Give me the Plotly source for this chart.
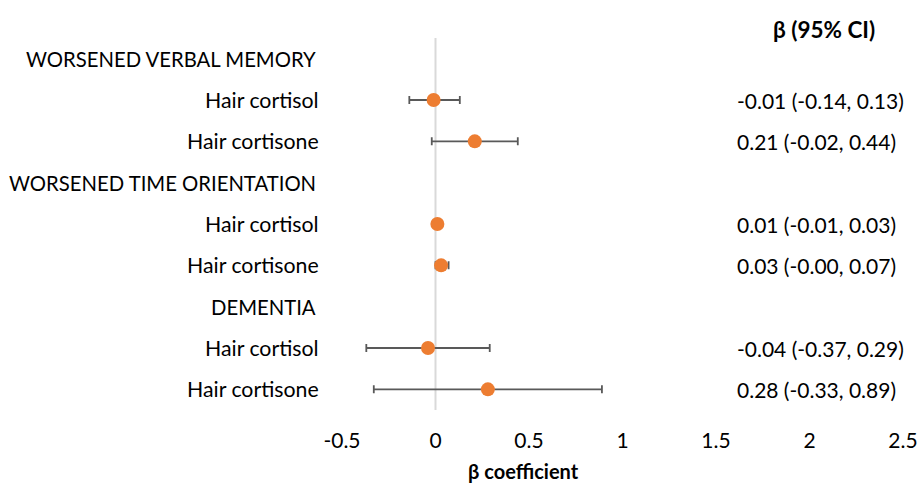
import plotly.graph_objects as go

row_labels = ["WORSENED VERBAL MEMORY", "Hair cortisol", "Hair cortisone",
              "WORSENED TIME ORIENTATION", "Hair cortisol", "Hair cortisone",
              "DEMENTIA", "Hair cortisol", "Hair cortisone"]
header_rows = [0, 3, 6]
data_rows = [1, 2, 4, 5, 7, 8]
beta = [-0.01, 0.21, 0.01, 0.03, -0.04, 0.28]
lower = [-0.14, -0.02, -0.01, -0.00, -0.37, -0.33]
upper = [0.13, 0.44, 0.03, 0.07, 0.29, 0.89]
ci_labels = ["-0.01 (-0.14, 0.13)", "0.21 (-0.02, 0.44)",
             "0.01 (-0.01, 0.03)", "0.03 (-0.00, 0.07)",
             "-0.04 (-0.37, 0.29)", "0.28 (-0.33, 0.89)"]
x_ticks = [-0.5, 0, 0.5, 1, 1.5, 2, 2.5]
x_ticktext = ["-0.5", "0", "0.5", "1", "1.5", "2", "2.5"]

FONT = "Lato"
FS = 21
n = len(row_labels)
ypos = [n - 1 - r for r in data_rows]

# plot area in pixels
L, R, T, B = 342, 903, 38, 410
W, H = R - L, B - T

def px(x):
    return (x - L) / W

def py(y):
    return (B - y) / H

fig = go.Figure()
fig.add_trace(go.Scatter(
    x=beta, y=ypos, mode="markers",
    marker=dict(color="#ED7D31", size=14),
    error_x=dict(type="data", symmetric=False,
                 array=[u - b for u, b in zip(upper, beta)],
                 arrayminus=[b - l for b, l in zip(beta, lower)],
                 color="#595959", thickness=1.8, width=4),
    showlegend=False, cliponaxis=False, hoverinfo="skip",
))

fig.add_shape(type="line", xref="x", yref="paper", x0=0, x1=0, y0=0, y1=1,
              line=dict(color="#D9D9D9", width=2), layer="below")

annotations = []
for yv, txt in zip(ypos, ci_labels):
    annotations.append(dict(x=px(735), xref="paper", y=yv, yref="y",
                            text=txt, showarrow=False, xanchor="left",
                            font=dict(family=FONT, size=FS, color="#000")))
annotations.append(dict(x=px(824), xref="paper", y=py(29), yref="paper",
                        text="<b>β (95% CI)</b>", showarrow=False, xanchor="center", yanchor="middle",
                        font=dict(family=FONT, size=22.5, color="#000")))
annotations.append(dict(x=px(523), xref="paper", y=py(484), yref="paper",
                        text="<b>β coefficient</b>", showarrow=False, xanchor="center", yanchor="bottom",
                        borderpad=0,
                        font=dict(family=FONT, size=20, color="#000")))
for r, lab in enumerate(row_labels):
    hdr = r in header_rows
    annotations.append(dict(x=px(318 if hdr else 321), xref="paper", y=n - 1 - r, yref="y",
                            text=lab, showarrow=False, xanchor="right",
                            font=dict(family=FONT, size=20.3 if hdr else 21.3, color="#000")))

fig.update_layout(
    width=918, height=485,
    margin=dict(l=L, r=918 - R, t=T, b=485 - B, pad=0, autoexpand=False),
    paper_bgcolor="white", plot_bgcolor="white",
    font=dict(family=FONT, size=FS, color="#000"),
    xaxis=dict(range=[-0.5, 2.5], tickvals=x_ticks, ticktext=x_ticktext,
               showgrid=False, zeroline=False, showline=False, automargin=False,
               ticklabelstandoff=16, tickfont=dict(family=FONT, size=FS, color="#000")),
    yaxis=dict(range=[-0.5, n - 0.5], showticklabels=False, showgrid=False,
               zeroline=False, showline=False, automargin=False),
    annotations=annotations,
)
fig.write_html("out.html",
               config={"displayModeBar": False, "responsive": False},
               post_script=("document.documentElement.style.overflow='hidden';"
                            "document.body.style.margin='0';document.body.style.padding='0';"
                            "document.body.style.overflow='hidden';"))
